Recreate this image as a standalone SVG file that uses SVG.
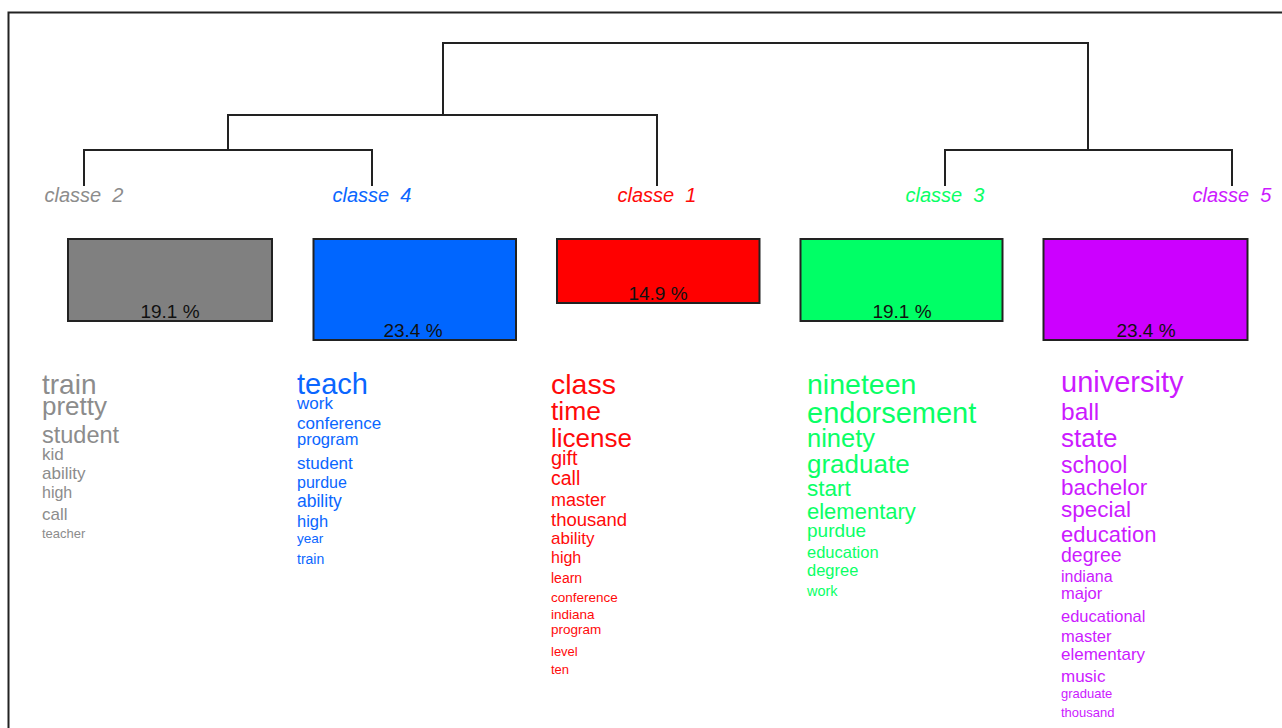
<svg xmlns="http://www.w3.org/2000/svg" width="1282" height="728" viewBox="0 0 1282 728">
<style>
text{font-family:"Liberation Sans",Arial,sans-serif;}
.lbl{font-size:20px;font-style:italic;text-anchor:middle;white-space:pre;}
.pct{font-size:19px;fill:#111;text-anchor:middle;}
.box{stroke:#222;stroke-width:2;}
.den{fill:none;stroke:#222;stroke-width:2;}
.c2{fill:#8c8c8c;}
.c4{fill:#0a66ff;}
.c1{fill:#ff0a0a;}
.c3{fill:#0aff66;}
.c5{fill:#cc1aff;}
</style>
<rect x="0" y="0" width="1282" height="728" fill="#fff"/>
<path d="M8.5 728 V12.5 H1282" fill="none" stroke="#222" stroke-width="2"/>
<g id="connectors" class="den">
<path d="M443 115 V43 H1088 V150"/>
<path d="M228 150 V115 H657 V186"/>
<path d="M84 186 V150 H372 V186"/>
<path d="M945 186 V150 H1232 V186"/>
</g>
<g id="classe2">
<text class="lbl c2" x="84" y="202">classe  2</text>
<rect class="box" x="68" y="239" width="204" height="82" fill="#808080"/>
<text class="pct" x="170" y="318">19.1 %</text>
<text class="c2" x="42" y="394" font-size="28">train</text>
<text class="c2" x="42" y="415" font-size="26">pretty</text>
<text class="c2" x="42" y="443" font-size="23.5">student</text>
<text class="c2" x="42" y="460" font-size="17">kid</text>
<text class="c2" x="42" y="479" font-size="17">ability</text>
<text class="c2" x="42" y="498" font-size="16">high</text>
<text class="c2" x="42" y="520" font-size="17">call</text>
<text class="c2" x="42" y="538" font-size="13">teacher</text>
</g>
<g id="classe4">
<text class="lbl c4" x="372" y="202">classe  4</text>
<rect class="box" x="313.5" y="239" width="202.5" height="101" fill="#0066ff"/>
<text class="pct" x="413" y="337">23.4 %</text>
<text class="c4" x="297" y="394" font-size="29">teach</text>
<text class="c4" x="297" y="409" font-size="17">work</text>
<text class="c4" x="297" y="429" font-size="17">conference</text>
<text class="c4" x="297" y="445" font-size="16.5">program</text>
<text class="c4" x="297" y="469" font-size="17">student</text>
<text class="c4" x="297" y="488" font-size="16">purdue</text>
<text class="c4" x="297" y="507" font-size="17.5">ability</text>
<text class="c4" x="297" y="527" font-size="16.5">high</text>
<text class="c4" x="297" y="543" font-size="13.5">year</text>
<text class="c4" x="297" y="564" font-size="14">train</text>
</g>
<g id="classe1">
<text class="lbl c1" x="657" y="202">classe  1</text>
<rect class="box" x="557" y="239" width="202.5" height="64" fill="#ff0000"/>
<text class="pct" x="658" y="300">14.9 %</text>
<text class="c1" x="551" y="394" font-size="28.5">class</text>
<text class="c1" x="551" y="420" font-size="26.5">time</text>
<text class="c1" x="551" y="447" font-size="26">license</text>
<text class="c1" x="551" y="465" font-size="20">gift</text>
<text class="c1" x="551" y="485" font-size="19.5">call</text>
<text class="c1" x="551" y="506" font-size="18">master</text>
<text class="c1" x="551" y="526" font-size="18.5">thousand</text>
<text class="c1" x="551" y="544" font-size="17">ability</text>
<text class="c1" x="551" y="563" font-size="16">high</text>
<text class="c1" x="551" y="583" font-size="14">learn</text>
<text class="c1" x="551" y="602" font-size="13.5">conference</text>
<text class="c1" x="551" y="619" font-size="13.5">indiana</text>
<text class="c1" x="551" y="634" font-size="13.5">program</text>
<text class="c1" x="551" y="656" font-size="13">level</text>
<text class="c1" x="551" y="674" font-size="13">ten</text>
</g>
<g id="classe3">
<text class="lbl c3" x="945" y="202">classe  3</text>
<rect class="box" x="800.5" y="239" width="202" height="82" fill="#00ff66"/>
<text class="pct" x="902" y="318">19.1 %</text>
<text class="c3" x="807" y="394" font-size="28.5">nineteen</text>
<text class="c3" x="807" y="423" font-size="29">endorsement</text>
<text class="c3" x="807" y="447" font-size="25.5">ninety</text>
<text class="c3" x="807" y="473" font-size="26">graduate</text>
<text class="c3" x="807" y="496" font-size="22.5">start</text>
<text class="c3" x="807" y="519" font-size="22">elementary</text>
<text class="c3" x="807" y="537" font-size="19">purdue</text>
<text class="c3" x="807" y="558" font-size="16.5">education</text>
<text class="c3" x="807" y="576" font-size="16.5">degree</text>
<text class="c3" x="807" y="596" font-size="14.5">work</text>
</g>
<g id="classe5">
<text class="lbl c5" x="1232" y="202">classe  5</text>
<rect class="box" x="1043.5" y="239" width="204" height="101" fill="#cc00ff"/>
<text class="pct" x="1146" y="337">23.4 %</text>
<text class="c5" x="1061" y="392" font-size="29">university</text>
<text class="c5" x="1061" y="420" font-size="24.5">ball</text>
<text class="c5" x="1061" y="447" font-size="26">state</text>
<text class="c5" x="1061" y="473" font-size="23">school</text>
<text class="c5" x="1061" y="495" font-size="22.5">bachelor</text>
<text class="c5" x="1061" y="517" font-size="22.5">special</text>
<text class="c5" x="1061" y="542" font-size="22">education</text>
<text class="c5" x="1061" y="562" font-size="19.5">degree</text>
<text class="c5" x="1061" y="582" font-size="16">indiana</text>
<text class="c5" x="1061" y="599" font-size="16.5">major</text>
<text class="c5" x="1061" y="622" font-size="16.5">educational</text>
<text class="c5" x="1061" y="642" font-size="16.5">master</text>
<text class="c5" x="1061" y="660" font-size="17">elementary</text>
<text class="c5" x="1061" y="682" font-size="17">music</text>
<text class="c5" x="1061" y="698" font-size="13">graduate</text>
<text class="c5" x="1061" y="717" font-size="13">thousand</text>
</g>
</svg>
